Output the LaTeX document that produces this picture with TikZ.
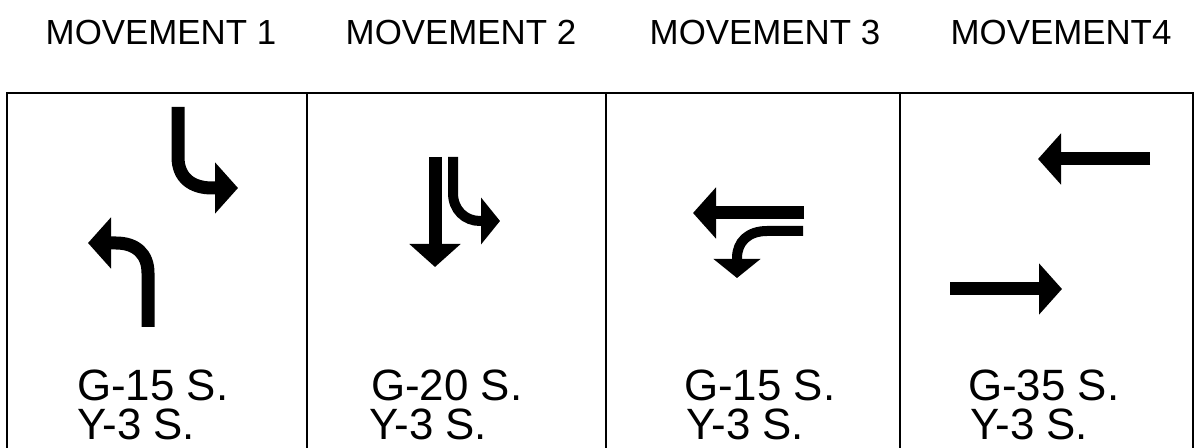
\documentclass[tikz,border=0pt]{standalone}
\usepackage{fontspec}
\setmainfont{Liberation Sans}
\usetikzlibrary{arrows.meta}
\begin{document}
\begin{tikzpicture}[x=1bp,y=-1bp,
  frame/.style={line width=2.5bp, line cap=rect},
  bigshaft/.style={line width=13bp, -{Triangle[length=23bp 0 0,width=50bp 0 0]}},
  thinshaft/.style={line width=10bp, -{Triangle[length=19bp 0 0,width=46bp 0 0]}},
  title/.style={font=\fontsize{35}{40}\selectfont, anchor=base, inner sep=0pt},
  timing/.style={font=\fontsize{44}{50}\selectfont, anchor=base west, inner sep=0pt}]
\useasboundingbox (0,0) rectangle (1195,448);
% frame
\draw[frame] (7,448) -- (7,93) -- (1193,93) -- (1193,448);
\draw[frame] (307,93) -- (307,448);
\draw[frame] (606,93) -- (606,448);
\draw[frame] (900,93) -- (900,448);
% titles
\node[title] (t1) at (161,45) {MOVEMENT 1};
\node[title] (t2) at (461,45) {MOVEMENT 2};
\node[title] (t3) at (765,45) {MOVEMENT 3};
\node[title] (t4) at (1061,45) {MOVEMENT4};
% movement 1
\draw[bigshaft] (178,107) -- (178,157) .. controls (178,178) and (192,188) .. (212,188) -- (238,188);
\draw[bigshaft] (148,327) -- (148,273) .. controls (148,254) and (136,243) .. (116,243) -- (88,243);
% movement 2
\draw[bigshaft] (435,157) -- (435,267);
\draw[thinshaft] (453,157) -- (453,193) .. controls (453,210) and (465,221) .. (480,221) -- (500,221);
% movement 3
\draw[bigshaft] (804,213) -- (693,213);
\draw[thinshaft] (803,231) -- (767,231) .. controls (748,231) and (737,242) .. (737,258) -- (737,278);
% movement 4
\draw[bigshaft] (1150,159) -- (1038,159);
\draw[bigshaft] (950,289) -- (1062,289);
% timings
\node[timing] (g1) at (77,401) {G-15 S.};
\node[timing] (y1) at (77,440) {Y-3 S.};
\node[timing] (g2) at (371,401) {G-20 S.};
\node[timing] (y2) at (369,440) {Y-3 S.};
\node[timing] (g3) at (684,401) {G-15 S.};
\node[timing] (y3) at (686,440) {Y-3 S.};
\node[timing] (g4) at (968,401) {G-35 S.};
\node[timing] (y4) at (970,440) {Y-3 S.};
\end{tikzpicture}
\end{document}
